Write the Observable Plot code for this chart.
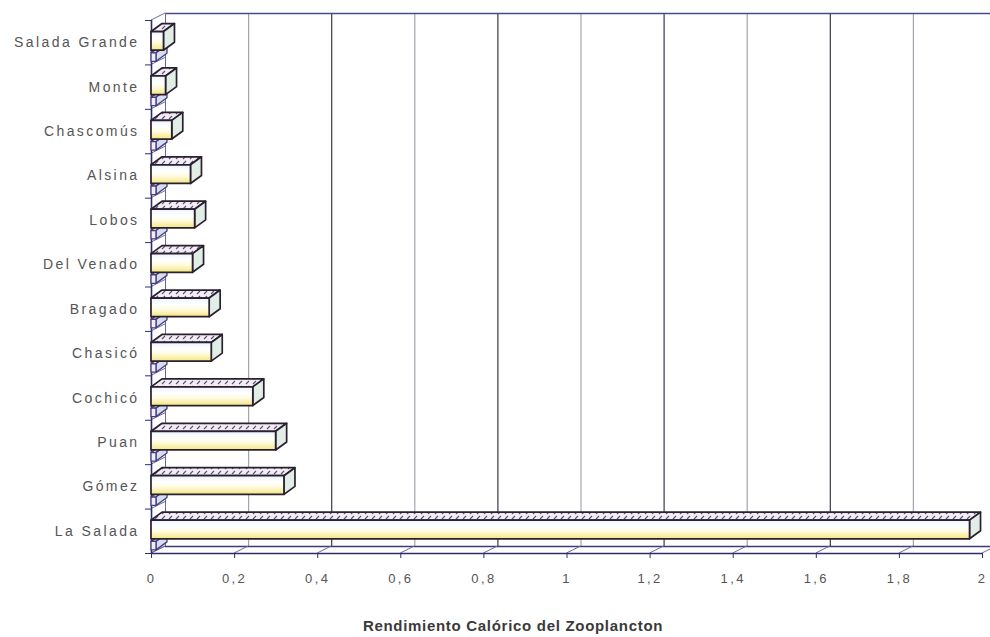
<!DOCTYPE html>
<html>
<head>
<meta charset="utf-8">
<script src="https://cdn.jsdelivr.net/npm/d3@7"></script>
<script src="https://cdn.jsdelivr.net/npm/@observablehq/plot@0.6"></script>
<style>
  html, body { margin: 0; padding: 0; background: #fff; overflow: hidden; }
  #chart { position: relative; width: 990px; height: 637px; overflow: hidden; }
  #chart svg text { letter-spacing: 2.4px; }
  [aria-label="y-axis tick label"] text { font-size: 14px; }
  #caption {
    position: absolute; left: 263px; width: 500px; top: 617px;
    text-align: center; font: bold 15px "Liberation Sans", Arial, sans-serif;
    color: #3a3a3a; letter-spacing: 0.7px;
  }
  [aria-label="x-axis tick label"], [aria-label="y-axis tick label"] { fill: #555; }
  [aria-label="x-axis tick"], [aria-label="y-axis tick"] { stroke: #2e2e70; }
</style>
</head>
<body>
<div id="chart"><div id="caption">Rendimiento Calórico del Zooplancton</div></div>
<script>
// Lagunas, de arriba hacia abajo
const lakes = ["Salada Grande", "Monte", "Chascomús", "Alsina", "Lobos", "Del Venado",
               "Bragado", "Chasicó", "Cochicó", "Puan", "Gómez", "La Salada"];
// Rendimiento calórico del zooplancton (serie principal)
const rendimiento = [0.03, 0.035, 0.05, 0.095, 0.105, 0.10, 0.14, 0.145, 0.245, 0.30, 0.32, 1.97];
// Segunda serie, valores casi nulos
const serie2 = [0.012, 0.012, 0.012, 0.012, 0.012, 0.012, 0.012, 0.012, 0.012, 0.012, 0.012, 0.012];
// Eje X
const xTicks = [0, 0.2, 0.4, 0.6, 0.8, 1, 1.2, 1.4, 1.6, 1.8, 2];
const xTickLabels = ["0", "0,2", "0,4", "0,6", "0,8", "1", "1,2", "1,4", "1,6", "1,8", "2"];

// Profundidad de las paredes (pared del fondo) y de las barras, en píxeles
const MURO = {dx: 14, dy: -7};
const BARRA = {dx: 11, dy: -8};

const gridClaras = xTicks.filter((t, i) => i % 2 === 1);
const gridOscuras = xTicks.filter((t, i) => i > 0 && i % 2 === 0 && t < 2);

// Líneas de profundidad del piso y de la pared izquierda
function profundidad(index, {x, y}) {
  const g = d3.create("svg:g").attr("stroke", "#6c6c9c").attr("stroke-width", 1);
  for (const t of xTicks) {
    g.append("line").attr("x1", x(t)).attr("y1", y(lakes.length))
      .attr("x2", x(t) + MURO.dx).attr("y2", y(lakes.length) + MURO.dy);
  }
  for (let i = 0; i <= lakes.length; i++) {
    g.append("line").attr("x1", x(0)).attr("y1", y(i))
      .attr("x2", x(0) + MURO.dx).attr("y2", y(i) + MURO.dy);
  }
  return g.node();
}

// Barras en 3D: cara frontal, superior y lateral
function cajas(index, {x, y}) {
  const g = d3.create("svg:g").attr("stroke-linejoin", "round");
  const defs = g.append("defs");
  const grad = defs.append("linearGradient").attr("id", "frente")
    .attr("x1", 0).attr("y1", 0).attr("x2", 0).attr("y2", 1);
  [[0, "#eef5ff"], [0.35, "#ffffff"], [0.6, "#fffbe0"], [1, "#f5e57e"]]
    .forEach(([o, c]) => grad.append("stop").attr("offset", o).attr("stop-color", c));
  const pat = defs.append("pattern").attr("id", "trama")
    .attr("patternUnits", "userSpaceOnUse").attr("width", 7).attr("height", 5);
  pat.append("rect").attr("width", 7).attr("height", 5).attr("fill", "#f2edf5");
  pat.append("path").attr("d", "M1,4L4,1").attr("stroke", "#5d4f70").attr("stroke-width", 1.1);

  const principal = {stroke: "#2a2030", width: 1.7, front: "url(#frente)", top: "url(#trama)", side: "#e0eee6"};
  const menor = {stroke: "#4a3a7a", width: 1.3, front: "#eceefa", top: "#e3d8ee", side: "#d3def0"};

  const caja = (v, t, b, e) => {
    const x0 = x(0), x1 = x(v), y0 = y(t), y1 = y(b);
    const {dx, dy} = BARRA;
    const c = g.append("g").attr("stroke", e.stroke).attr("stroke-width", e.width);
    c.append("path").attr("fill", e.top)
      .attr("d", `M${x0},${y0}L${x0 + dx},${y0 + dy}L${x1 + dx},${y0 + dy}L${x1},${y0}Z`);
    c.append("path").attr("fill", e.side)
      .attr("d", `M${x1},${y0}L${x1 + dx},${y0 + dy}L${x1 + dx},${y1 + dy}L${x1},${y1}Z`);
    c.append("rect").attr("fill", e.front)
      .attr("x", x0).attr("y", y0).attr("width", x1 - x0).attr("height", y1 - y0);
  };
  lakes.forEach((_, i) => {
    caja(serie2[i], i + 0.74, i + 0.93, menor);
    caja(rendimiento[i], i + 0.26, i + 0.68, principal);
  });
  return g.node();
}

const chart = Plot.plot({
  width: 990,
  height: 604,
  marginLeft: 151,
  marginRight: 8,
  marginTop: 20,
  marginBottom: 51,
  style: {fontFamily: '"Liberation Sans", Arial, sans-serif', fontSize: "13px", overflow: "hidden", background: "transparent"},
  x: {domain: [0, 2], label: null},
  y: {domain: [0, lakes.length], reverse: true, label: null},
  marks: [
    // pared del fondo
    Plot.ruleX(gridClaras, {y1: 0, y2: lakes.length, dx: MURO.dx, dy: MURO.dy, stroke: "#a4a4ae", strokeWidth: 1.2}),
    Plot.ruleX(gridOscuras, {y1: 0, y2: lakes.length, dx: MURO.dx, dy: MURO.dy, stroke: "#3a3a46", strokeWidth: 1.2}),
    Plot.ruleY([0], {x1: 0, x2: 2, dx: MURO.dx, dy: MURO.dy, stroke: "#4a4a8c", strokeWidth: 1.6}),
    Plot.ruleY([lakes.length], {x1: 0, x2: 2, dx: MURO.dx, dy: MURO.dy, stroke: "#3c3c70", strokeWidth: 1.3}),
    Plot.ruleX([0], {y1: 0, y2: lakes.length, dx: MURO.dx, dy: MURO.dy, stroke: "#6a6a9a"}),
    profundidad,
    // ejes frontales
    Plot.ruleY([lakes.length], {x1: 0, x2: 2, stroke: "#2c2c6e", strokeWidth: 1.6}),
    Plot.ruleX([0], {y1: 0, y2: lakes.length, stroke: "#2c2c6e", strokeWidth: 1.6}),
    Plot.axisX(xTicks, {anchor: "bottom", tickSize: 5, tickPadding: 15, label: null,
      tickFormat: d => xTickLabels[xTicks.indexOf(d)]}),
    Plot.axisY(d3.range(lakes.length + 1), {anchor: "left", tickSize: 6, label: null, tickFormat: () => ""}),
    Plot.axisY(lakes.map((_, i) => i + 0.5), {anchor: "left", tickSize: 0, tickPadding: 12, label: null,
      fontSize: 14, tickFormat: d => lakes[d - 0.5]}),
    cajas
  ]
});

document.getElementById("chart").prepend(chart);
</script>
</body>
</html>
